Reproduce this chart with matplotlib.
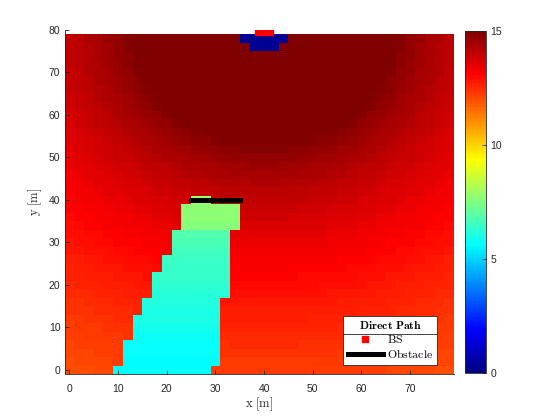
import numpy as np
import matplotlib
matplotlib.use('Agg')
import matplotlib.pyplot as plt
from matplotlib.lines import Line2D
from matplotlib.colors import LinearSegmentedColormap

plt.rcParams['mathtext.fontset'] = 'cm'
plt.rcParams['font.family'] = ['Liberation Sans', 'DejaVu Sans']

# grid cell centres [m]
x_m = np.arange(0, 80, 2)
y_m = np.arange(0, 80, 2)

# direct path value per cell, one row per y (y = 0 first)
snr = [
    [12.0, 12.0, 12.0, 12.1, 12.1, 5.6, 5.6, 5.6, 5.6, 5.6, 5.6, 5.6, 5.6, 5.6, 5.6, 12.2, 12.3, 12.3, 12.3, 12.3,
     12.3, 12.3, 12.3, 12.3, 12.3, 12.2, 12.2, 12.2, 12.2, 12.2, 12.2, 12.2, 12.2, 12.1, 12.1, 12.1, 12.1, 12.1, 12.0, 12.0],
    [12.0, 12.1, 12.1, 12.1, 12.1, 12.2, 5.6, 5.6, 5.6, 5.6, 5.6, 5.6, 5.6, 5.6, 5.6, 5.6, 12.3, 12.3, 12.3, 12.3,
     12.3, 12.3, 12.3, 12.3, 12.3, 12.3, 12.3, 12.3, 12.3, 12.3, 12.2, 12.2, 12.2, 12.2, 12.2, 12.2, 12.1, 12.1, 12.1, 12.1],
    [12.1, 12.1, 12.1, 12.2, 12.2, 12.2, 5.7, 5.7, 5.7, 5.7, 5.7, 5.7, 5.7, 5.7, 5.7, 5.7, 12.4, 12.4, 12.4, 12.4,
     12.4, 12.4, 12.4, 12.4, 12.4, 12.4, 12.4, 12.4, 12.3, 12.3, 12.3, 12.3, 12.3, 12.3, 12.2, 12.2, 12.2, 12.2, 12.1, 12.1],
    [12.1, 12.2, 12.2, 12.2, 12.2, 12.3, 5.7, 5.7, 5.7, 5.7, 5.7, 5.7, 5.7, 5.7, 5.7, 5.7, 12.4, 12.5, 12.5, 12.5,
     12.5, 12.5, 12.5, 12.5, 12.4, 12.4, 12.4, 12.4, 12.4, 12.4, 12.4, 12.4, 12.3, 12.3, 12.3, 12.3, 12.2, 12.2, 12.2, 12.2],
    [12.2, 12.2, 12.3, 12.3, 12.3, 12.3, 12.4, 5.8, 5.8, 5.8, 5.8, 5.8, 5.8, 5.8, 5.8, 5.8, 12.5, 12.5, 12.5, 12.5,
     12.5, 12.5, 12.5, 12.5, 12.5, 12.5, 12.5, 12.5, 12.5, 12.5, 12.4, 12.4, 12.4, 12.4, 12.4, 12.3, 12.3, 12.3, 12.3, 12.2],
    [12.2, 12.3, 12.3, 12.3, 12.4, 12.4, 12.4, 5.9, 5.9, 5.9, 5.9, 5.9, 5.9, 5.9, 5.9, 5.9, 12.6, 12.6, 12.6, 12.6,
     12.6, 12.6, 12.6, 12.6, 12.6, 12.6, 12.6, 12.6, 12.5, 12.5, 12.5, 12.5, 12.5, 12.4, 12.4, 12.4, 12.4, 12.3, 12.3, 12.3],
    [12.3, 12.3, 12.4, 12.4, 12.4, 12.5, 12.5, 6.0, 6.0, 6.0, 6.0, 6.0, 6.0, 6.0, 6.0, 6.0, 12.7, 12.7, 12.7, 12.7,
     12.7, 12.7, 12.7, 12.7, 12.7, 12.6, 12.6, 12.6, 12.6, 12.6, 12.6, 12.5, 12.5, 12.5, 12.5, 12.5, 12.4, 12.4, 12.4, 12.3],
    [12.4, 12.4, 12.4, 12.5, 12.5, 12.5, 12.5, 12.6, 6.0, 6.0, 6.0, 6.0, 6.0, 6.0, 6.0, 6.0, 12.7, 12.7, 12.7, 12.7,
     12.7, 12.7, 12.7, 12.7, 12.7, 12.7, 12.7, 12.7, 12.7, 12.7, 12.6, 12.6, 12.6, 12.6, 12.5, 12.5, 12.5, 12.5, 12.4, 12.4],
    [12.4, 12.4, 12.5, 12.5, 12.5, 12.6, 12.6, 12.6, 6.1, 6.1, 6.1, 6.1, 6.1, 6.1, 6.1, 6.1, 12.8, 12.8, 12.8, 12.8,
     12.8, 12.8, 12.8, 12.8, 12.8, 12.8, 12.8, 12.8, 12.7, 12.7, 12.7, 12.7, 12.7, 12.6, 12.6, 12.6, 12.5, 12.5, 12.5, 12.4],
    [12.5, 12.5, 12.5, 12.6, 12.6, 12.6, 12.7, 12.7, 12.7, 6.2, 6.2, 6.2, 6.2, 6.2, 6.2, 6.2, 6.2, 12.9, 12.9, 12.9,
     12.9, 12.9, 12.9, 12.9, 12.9, 12.9, 12.9, 12.8, 12.8, 12.8, 12.8, 12.8, 12.7, 12.7, 12.7, 12.6, 12.6, 12.6, 12.5, 12.5],
    [12.5, 12.6, 12.6, 12.6, 12.7, 12.7, 12.7, 12.8, 12.8, 6.3, 6.3, 6.3, 6.3, 6.3, 6.3, 6.3, 6.3, 13.0, 13.0, 13.0,
     13.0, 13.0, 13.0, 13.0, 13.0, 13.0, 12.9, 12.9, 12.9, 12.9, 12.9, 12.8, 12.8, 12.8, 12.7, 12.7, 12.7, 12.6, 12.6, 12.6],
    [12.6, 12.6, 12.7, 12.7, 12.7, 12.8, 12.8, 12.8, 12.9, 6.4, 6.4, 6.4, 6.4, 6.4, 6.4, 6.4, 6.4, 13.1, 13.1, 13.1,
     13.1, 13.1, 13.1, 13.1, 13.0, 13.0, 13.0, 13.0, 13.0, 13.0, 12.9, 12.9, 12.9, 12.8, 12.8, 12.8, 12.7, 12.7, 12.7, 12.6],
    [12.6, 12.7, 12.7, 12.8, 12.8, 12.8, 12.9, 12.9, 12.9, 13.0, 6.4, 6.4, 6.4, 6.4, 6.4, 6.4, 6.4, 13.1, 13.2, 13.2,
     13.2, 13.2, 13.2, 13.1, 13.1, 13.1, 13.1, 13.1, 13.1, 13.0, 13.0, 13.0, 12.9, 12.9, 12.9, 12.8, 12.8, 12.8, 12.7, 12.7],
    [12.7, 12.7, 12.8, 12.8, 12.9, 12.9, 13.0, 13.0, 13.0, 13.1, 6.5, 6.5, 6.5, 6.5, 6.5, 6.5, 6.5, 13.2, 13.2, 13.2,
     13.2, 13.2, 13.2, 13.2, 13.2, 13.2, 13.2, 13.2, 13.1, 13.1, 13.1, 13.1, 13.0, 13.0, 13.0, 12.9, 12.9, 12.8, 12.8, 12.7],
    [12.8, 12.8, 12.9, 12.9, 12.9, 13.0, 13.0, 13.1, 13.1, 13.1, 13.2, 6.6, 6.6, 6.6, 6.6, 6.6, 6.6, 13.3, 13.3, 13.3,
     13.3, 13.3, 13.3, 13.3, 13.3, 13.3, 13.3, 13.3, 13.2, 13.2, 13.2, 13.1, 13.1, 13.1, 13.0, 13.0, 12.9, 12.9, 12.9, 12.8],
    [12.8, 12.9, 12.9, 13.0, 13.0, 13.1, 13.1, 13.1, 13.2, 13.2, 13.3, 6.7, 6.7, 6.7, 6.7, 6.7, 6.7, 13.4, 13.4, 13.4,
     13.4, 13.4, 13.4, 13.4, 13.4, 13.4, 13.4, 13.3, 13.3, 13.3, 13.3, 13.2, 13.2, 13.1, 13.1, 13.1, 13.0, 13.0, 12.9, 12.9],
    [12.9, 12.9, 13.0, 13.0, 13.1, 13.1, 13.2, 13.2, 13.3, 13.3, 13.3, 6.8, 6.8, 6.8, 6.8, 6.8, 6.8, 13.5, 13.5, 13.5,
     13.5, 13.5, 13.5, 13.5, 13.5, 13.5, 13.5, 13.4, 13.4, 13.4, 13.3, 13.3, 13.3, 13.2, 13.2, 13.1, 13.1, 13.0, 13.0, 12.9],
    [12.9, 13.0, 13.1, 13.1, 13.2, 13.2, 13.3, 13.3, 13.3, 13.4, 13.4, 13.5, 7.6, 7.6, 7.6, 7.6, 7.6, 7.6, 13.6, 13.6,
     13.7, 13.6, 13.6, 13.6, 13.6, 13.6, 13.6, 13.5, 13.5, 13.5, 13.4, 13.4, 13.3, 13.3, 13.3, 13.2, 13.2, 13.1, 13.1, 13.0],
    [13.0, 13.1, 13.1, 13.2, 13.2, 13.3, 13.3, 13.4, 13.4, 13.5, 13.5, 13.6, 7.7, 7.7, 7.7, 7.7, 7.7, 7.7, 13.8, 13.8,
     13.8, 13.8, 13.8, 13.7, 13.7, 13.7, 13.7, 13.6, 13.6, 13.6, 13.5, 13.5, 13.4, 13.4, 13.3, 13.3, 13.2, 13.2, 13.1, 13.1],
    [13.1, 13.1, 13.2, 13.2, 13.3, 13.4, 13.4, 13.5, 13.5, 13.6, 13.6, 13.7, 7.7, 7.7, 7.7, 7.7, 7.7, 7.7, 13.9, 13.9,
     13.9, 13.9, 13.9, 13.9, 13.8, 13.8, 13.8, 13.7, 13.7, 13.7, 13.6, 13.6, 13.5, 13.5, 13.4, 13.4, 13.3, 13.2, 13.2, 13.1],
    [13.1, 13.2, 13.3, 13.3, 13.4, 13.4, 13.5, 13.6, 13.6, 13.7, 13.7, 13.8, 13.8, 7.8, 7.8, 13.9, 14.0, 14.0, 14.0, 14.0,
     14.0, 14.0, 14.0, 14.0, 14.0, 13.9, 13.9, 13.9, 13.8, 13.8, 13.7, 13.7, 13.6, 13.6, 13.5, 13.4, 13.4, 13.3, 13.3, 13.2],
    [13.2, 13.3, 13.3, 13.4, 13.5, 13.5, 13.6, 13.6, 13.7, 13.8, 13.8, 13.9, 13.9, 14.0, 14.0, 14.0, 14.1, 14.1, 14.1, 14.1,
     14.1, 14.1, 14.1, 14.1, 14.1, 14.0, 14.0, 14.0, 13.9, 13.9, 13.8, 13.8, 13.7, 13.6, 13.6, 13.5, 13.5, 13.4, 13.3, 13.3],
    [13.3, 13.3, 13.4, 13.5, 13.5, 13.6, 13.7, 13.7, 13.8, 13.9, 13.9, 14.0, 14.0, 14.1, 14.1, 14.2, 14.2, 14.2, 14.2, 14.3,
     14.3, 14.3, 14.2, 14.2, 14.2, 14.2, 14.1, 14.1, 14.0, 14.0, 13.9, 13.9, 13.8, 13.7, 13.7, 13.6, 13.5, 13.5, 13.4, 13.3],
    [13.3, 13.4, 13.5, 13.5, 13.6, 13.7, 13.8, 13.8, 13.9, 14.0, 14.0, 14.1, 14.2, 14.2, 14.3, 14.3, 14.3, 14.4, 14.4, 14.4,
     14.4, 14.4, 14.4, 14.4, 14.3, 14.3, 14.3, 14.2, 14.2, 14.1, 14.0, 14.0, 13.9, 13.8, 13.8, 13.7, 13.6, 13.5, 13.5, 13.4],
    [13.4, 13.5, 13.5, 13.6, 13.7, 13.8, 13.8, 13.9, 14.0, 14.1, 14.1, 14.2, 14.3, 14.3, 14.4, 14.4, 14.5, 14.5, 14.5, 14.6,
     14.6, 14.6, 14.5, 14.5, 14.5, 14.4, 14.4, 14.3, 14.3, 14.2, 14.1, 14.1, 14.0, 13.9, 13.8, 13.8, 13.7, 13.6, 13.5, 13.5],
    [13.4, 13.5, 13.6, 13.7, 13.8, 13.9, 13.9, 14.0, 14.1, 14.2, 14.3, 14.3, 14.4, 14.5, 14.5, 14.6, 14.6, 14.7, 14.7, 14.7,
     14.7, 14.7, 14.7, 14.7, 14.6, 14.6, 14.5, 14.5, 14.4, 14.3, 14.3, 14.2, 14.1, 14.0, 13.9, 13.9, 13.8, 13.7, 13.6, 13.5],
    [13.5, 13.6, 13.7, 13.8, 13.8, 13.9, 14.0, 14.1, 14.2, 14.3, 14.4, 14.5, 14.5, 14.6, 14.7, 14.7, 14.8, 14.8, 14.9, 14.9,
     14.9, 14.9, 14.9, 14.8, 14.8, 14.7, 14.7, 14.6, 14.5, 14.5, 14.4, 14.3, 14.2, 14.1, 14.0, 13.9, 13.8, 13.8, 13.7, 13.6],
    [13.6, 13.6, 13.7, 13.8, 13.9, 14.0, 14.1, 14.2, 14.3, 14.4, 14.5, 14.6, 14.7, 14.8, 14.8, 14.9, 15.0, 15.0, 15.0, 15.0,
     15.0, 15.0, 15.0, 15.0, 15.0, 14.9, 14.8, 14.8, 14.7, 14.6, 14.5, 14.4, 14.3, 14.2, 14.1, 14.0, 13.9, 13.8, 13.7, 13.6],
    [13.6, 13.7, 13.8, 13.9, 14.0, 14.1, 14.2, 14.3, 14.4, 14.5, 14.6, 14.7, 14.8, 14.9, 15.0, 15.0, 15.0, 15.0, 15.0, 15.0,
     15.0, 15.0, 15.0, 15.0, 15.0, 15.0, 15.0, 14.9, 14.8, 14.7, 14.6, 14.5, 14.4, 14.3, 14.2, 14.1, 14.0, 13.9, 13.8, 13.7],
    [13.7, 13.8, 13.9, 14.0, 14.1, 14.2, 14.3, 14.4, 14.5, 14.6, 14.7, 14.9, 15.0, 15.0, 15.0, 15.0, 15.0, 15.0, 15.0, 15.0,
     15.0, 15.0, 15.0, 15.0, 15.0, 15.0, 15.0, 15.0, 15.0, 14.9, 14.7, 14.6, 14.5, 14.4, 14.3, 14.2, 14.1, 14.0, 13.9, 13.8],
    [13.7, 13.8, 13.9, 14.0, 14.1, 14.3, 14.4, 14.5, 14.6, 14.7, 14.9, 15.0, 15.0, 15.0, 15.0, 15.0, 15.0, 15.0, 15.0, 15.0,
     15.0, 15.0, 15.0, 15.0, 15.0, 15.0, 15.0, 15.0, 15.0, 15.0, 14.9, 14.7, 14.6, 14.5, 14.4, 14.3, 14.1, 14.0, 13.9, 13.8],
    [13.8, 13.9, 14.0, 14.1, 14.2, 14.3, 14.5, 14.6, 14.7, 14.9, 15.0, 15.0, 15.0, 15.0, 15.0, 15.0, 15.0, 15.0, 15.0, 15.0,
     15.0, 15.0, 15.0, 15.0, 15.0, 15.0, 15.0, 15.0, 15.0, 15.0, 15.0, 14.9, 14.7, 14.6, 14.5, 14.3, 14.2, 14.1, 14.0, 13.9],
    [13.8, 13.9, 14.0, 14.2, 14.3, 14.4, 14.5, 14.7, 14.8, 15.0, 15.0, 15.0, 15.0, 15.0, 15.0, 15.0, 15.0, 15.0, 15.0, 15.0,
     15.0, 15.0, 15.0, 15.0, 15.0, 15.0, 15.0, 15.0, 15.0, 15.0, 15.0, 15.0, 14.8, 14.7, 14.5, 14.4, 14.3, 14.2, 14.0, 13.9],
    [13.9, 14.0, 14.1, 14.2, 14.3, 14.5, 14.6, 14.8, 14.9, 15.0, 15.0, 15.0, 15.0, 15.0, 15.0, 15.0, 15.0, 15.0, 15.0, 15.0,
     15.0, 15.0, 15.0, 15.0, 15.0, 15.0, 15.0, 15.0, 15.0, 15.0, 15.0, 15.0, 14.9, 14.8, 14.6, 14.5, 14.3, 14.2, 14.1, 14.0],
    [13.9, 14.0, 14.1, 14.3, 14.4, 14.5, 14.7, 14.8, 15.0, 15.0, 15.0, 15.0, 15.0, 15.0, 15.0, 15.0, 15.0, 15.0, 15.0, 15.0,
     15.0, 15.0, 15.0, 15.0, 15.0, 15.0, 15.0, 15.0, 15.0, 15.0, 15.0, 15.0, 15.0, 14.8, 14.7, 14.5, 14.4, 14.3, 14.1, 14.0],
    [13.9, 14.0, 14.2, 14.3, 14.4, 14.6, 14.7, 14.9, 15.0, 15.0, 15.0, 15.0, 15.0, 15.0, 15.0, 15.0, 15.0, 15.0, 15.0, 15.0,
     15.0, 15.0, 15.0, 15.0, 15.0, 15.0, 15.0, 15.0, 15.0, 15.0, 15.0, 15.0, 15.0, 14.9, 14.7, 14.6, 14.4, 14.3, 14.2, 14.0],
    [14.0, 14.1, 14.2, 14.3, 14.5, 14.6, 14.8, 15.0, 15.0, 15.0, 15.0, 15.0, 15.0, 15.0, 15.0, 15.0, 15.0, 15.0, 15.0, 15.0,
     15.0, 15.0, 15.0, 15.0, 15.0, 15.0, 15.0, 15.0, 15.0, 15.0, 15.0, 15.0, 15.0, 15.0, 14.8, 14.6, 14.5, 14.3, 14.2, 14.1],
    [14.0, 14.1, 14.2, 14.4, 14.5, 14.7, 14.8, 15.0, 15.0, 15.0, 15.0, 15.0, 15.0, 15.0, 15.0, 15.0, 15.0, 15.0, 15.0, 15.0,
     15.0, 15.0, 15.0, 15.0, 15.0, 15.0, 15.0, 15.0, 15.0, 15.0, 15.0, 15.0, 15.0, 15.0, 14.8, 14.7, 14.5, 14.4, 14.2, 14.1],
    [14.0, 14.1, 14.2, 14.4, 14.5, 14.7, 14.9, 15.0, 15.0, 15.0, 15.0, 15.0, 15.0, 15.0, 15.0, 15.0, 15.0, 15.0, 15.0, 0.3,
     0.3, 0.3, 15.0, 15.0, 15.0, 15.0, 15.0, 15.0, 15.0, 15.0, 15.0, 15.0, 15.0, 15.0, 14.9, 14.7, 14.5, 14.4, 14.2, 14.1],
    [14.0, 14.1, 14.3, 14.4, 14.6, 14.7, 14.9, 15.0, 15.0, 15.0, 15.0, 15.0, 15.0, 15.0, 15.0, 15.0, 15.0, 15.0, 0.3, 0.3,
     0.3, 0.3, 0.3, 15.0, 15.0, 15.0, 15.0, 15.0, 15.0, 15.0, 15.0, 15.0, 15.0, 15.0, 14.9, 14.7, 14.6, 14.4, 14.3, 14.1],
]

# base station and obstacle [m]
bs_x = [40]
bs_y = [81]
obstacle_x = [25, 35]
obstacle_y = [40, 40]
cbar_ticks = [0, 5, 10, 15]

# matlab style jet
jet_m = LinearSegmentedColormap('jet_m', {
    'red': [(0, 0, 0), (0.375, 0, 0), (0.625, 1, 1), (0.875, 1, 1), (1, 0.5, 0.5)],
    'green': [(0, 0, 0), (0.125, 0, 0), (0.375, 1, 1), (0.625, 1, 1), (0.875, 0, 0), (1, 0, 0)],
    'blue': [(0, 0.5, 0.5), (0.125, 1, 1), (0.375, 1, 1), (0.625, 0, 0), (1, 0, 0)],
}, N=256)

tc = '#262626'
fig = plt.figure(figsize=(5.6, 4.2), dpi=100)
ax = fig.add_axes([64.5 / 560, 46 / 420, 389.5 / 560, 344 / 420])
mesh = ax.pcolormesh(x_m, y_m, np.array(snr), cmap=jet_m, vmin=0, vmax=15, shading='nearest')
ax.plot(obstacle_x, obstacle_y, color='k', lw=3.6, zorder=4)
ax.plot(bs_x, bs_y, 's', color='red', ms=13, zorder=5)
ax.set_xlim(-1, 79)
ax.set_ylim(-1, 80)
ax.set_xticks(range(0, 80, 10))
ax.set_yticks(range(0, 90, 10))
for s in ['top', 'right']:
    ax.spines[s].set_visible(False)
for s in ['left', 'bottom']:
    ax.spines[s].set_color(tc)
    ax.spines[s].set_linewidth(0.6)
ax.tick_params(direction='in', length=3, width=0.6, color=tc, labelcolor=tc, labelsize=7.5)
ax.tick_params(axis='x', pad=7)
ax.tick_params(axis='y', pad=3)
ax.set_xlabel(r'$\mathrm{x\ [m]}$', fontsize=9, color=tc)
ax.set_ylabel(r'$\mathrm{y\ [m]}$', fontsize=9, color=tc)
ax.xaxis.set_label_coords(0.5, -0.062)
ax.yaxis.set_label_coords(-0.052, 0.5)

bs_h = Line2D([], [], marker='s', color='red', ls='none', ms=4)
obs_h = Line2D([], [], color='k', lw=3.6)
leg = ax.legend([bs_h, obs_h], [r'$\mathrm{BS}$', r'$\mathrm{Obstacle}$'],
                title=r'$\mathbf{Direct\ Path}$', loc='lower right',
                bbox_to_anchor=(0.9564, 0.026), borderaxespad=0, fancybox=False,
                framealpha=1, edgecolor=tc, fontsize=8.5, title_fontsize=8.5,
                handlelength=3.0, handletextpad=0.3, borderpad=0.35, labelspacing=0.15)
leg.get_frame().set_linewidth(0.6)

cax = fig.add_axes([465 / 560, 47 / 420, 21 / 560, 342 / 420])
cb = fig.colorbar(mesh, cax=cax, ticks=cbar_ticks)
cb.outline.set_edgecolor(tc)
cb.outline.set_linewidth(0.6)
cax.tick_params(direction='in', length=3, width=0.6, color=tc, labelcolor=tc, labelsize=7.5, pad=3)

# line under the legend title, like matlab
fig.canvas.draw()
r = fig.canvas.get_renderer()
fb = leg.get_frame().get_window_extent(r)
tb = leg.get_title().get_window_extent(r)
yl = tb.y0 - 2
inv = fig.transFigure.inverted()
(p0x, p0y), (p1x, p1y) = inv.transform([(fb.x0, yl), (fb.x1, yl)])
fig.add_artist(Line2D([p0x, p1x], [p0y, p1y], color=tc, lw=0.6, transform=fig.transFigure))

fig.savefig('out.png')
